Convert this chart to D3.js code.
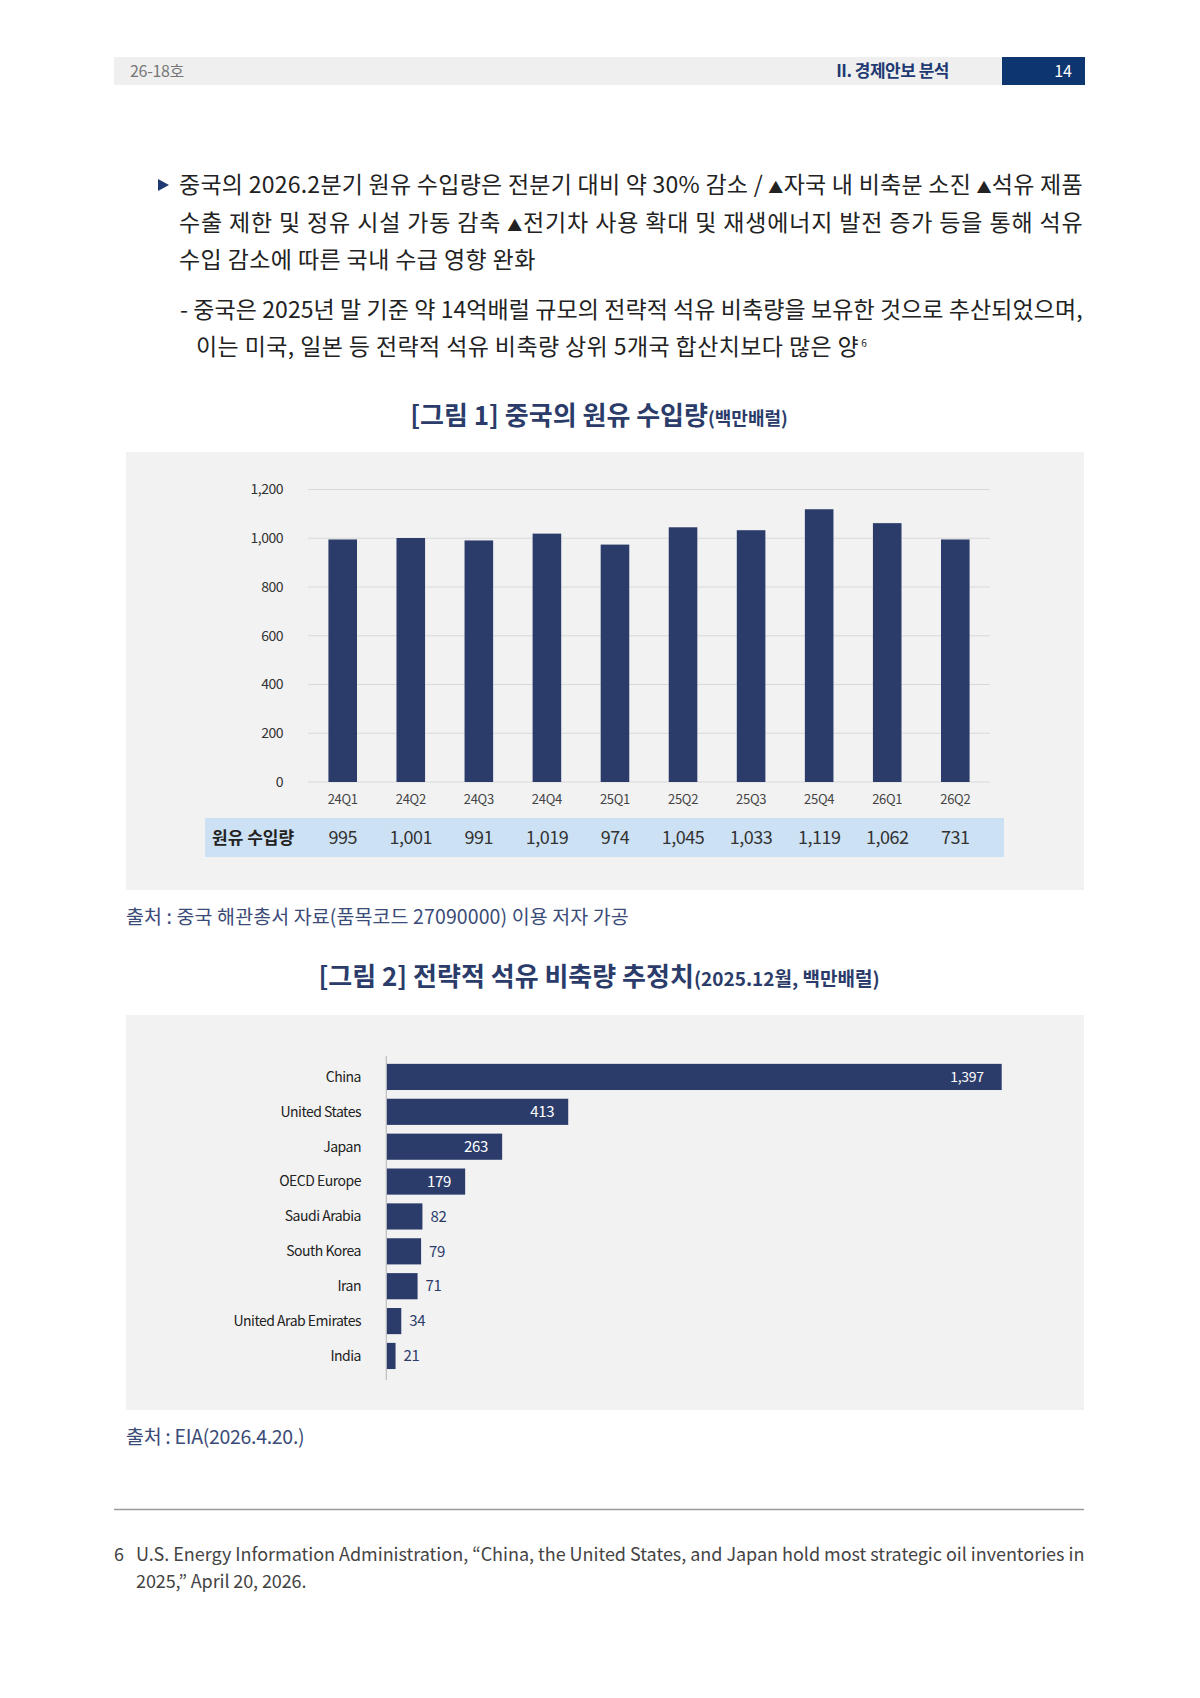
<!DOCTYPE html>
<html>
<head>
<meta charset="utf-8">
<script src="https://cdn.jsdelivr.net/npm/d3@7"></script>
<style>
  html, body { margin: 0; padding: 0; background: #fff; }
  svg { display: block; }
  text { font-family: "Noto Sans CJK KR", "Noto Sans", sans-serif; }
</style>
</head>
<body>
<div id="page"></div>
<script>
// figure 1: quarterly crude imports (million bbl)
const quarters = ['24Q1', '24Q2', '24Q3', '24Q4', '25Q1', '25Q2', '25Q3', '25Q4', '26Q1', '26Q2']
const importValues = [995, 1001, 991, 1019, 974, 1045, 1033, 1119, 1062, 731]
// bar heights as drawn in the picture (the 26Q2 bar stands at ~995, not 731)
const importBars = [995, 1001, 991, 1019, 974, 1045, 1033, 1119, 1062, 995]
const importTicks = [0, 200, 400, 600, 800, 1000, 1200]

// figure 2: strategic oil stocks, Dec 2025 (million bbl)
const countries = ['China', 'United States', 'Japan', 'OECD Europe', 'Saudi Arabia', 'South Korea', 'Iran', 'United Arab Emirates', 'India']
const stockValues = [1397, 413, 263, 179, 82, 79, 71, 34, 21]

const bodyLines = [
  '중국의 2026.2분기 원유 수입량은 전분기 대비 약 30% 감소 / ▲자국 내 비축분 소진 ▲석유 제품',
  '수출 제한 및 정유 시설 가동 감축 ▲전기차 사용 확대 및 재생에너지 발전 증가 등을 통해 석유',
  '수입 감소에 따른 국내 수급 영향 완화',
  '- 중국은 2025년 말 기준 약 14억배럴 규모의 전략적 석유 비축량을 보유한 것으로 추산되었으며,',
  '이는 미국, 일본 등 전략적 석유 비축량 상위 5개국 합산치보다 많은 양'
]

const navy = '#2b3c6b'
const fmt = d3.format(',')

const svg = d3.select('#page').append('svg')
  .attr('width', 1200)
  .attr('height', 1698)

svg.append('rect').attr('width', 1200).attr('height', 1698).attr('fill', '#fff')

// header strip
svg.append('rect').attr('x', 114).attr('y', 57).attr('width', 888).attr('height', 28).attr('fill', '#efefef')
svg.append('rect').attr('x', 1002).attr('y', 57).attr('width', 83).attr('height', 28).attr('fill', '#0d3570')
svg.append('text').attr('x', 130).attr('y', 71).attr('dy', '0.35em')
  .attr('font-size', 16).attr('fill', '#777').attr('letter-spacing', -0.3).text('26-18호')
svg.append('text').attr('x', 949).attr('y', 71).attr('dy', '0.35em').attr('text-anchor', 'end')
  .attr('font-size', 17).attr('font-weight', 700).attr('fill', '#1f3a72').attr('letter-spacing', -0.5).text('II. 경제안보 분석')
svg.append('text').attr('x', 1072).attr('y', 71).attr('dy', '0.35em').attr('text-anchor', 'end')
  .attr('font-size', 16).attr('fill', '#fff').text('14')

// body text
const body = svg.append('g').attr('font-size', 23).attr('fill', '#222')
svg.append('path').attr('d', 'M158,179 L169,185 L158,191 Z').attr('fill', '#1f3a72')
const lineSpec = [
  { x: 179, y: 185, w: 904 },
  { x: 179, y: 223, w: 904 },
  { x: 179, y: 260 },
  { x: 180, y: 310, w: 903 },
  { x: 196, y: 347 }
]
lineSpec.forEach((s, i) => {
  const t = body.append('text').attr('x', s.x).attr('y', s.y).attr('dy', '0.35em')
    .attr('letter-spacing', 0.4)
  bodyLines[i].split('▲').forEach((part, j) => {
    if (j > 0) t.append('tspan').attr('font-size', 15).text('▲')
    t.append('tspan').text(part)
  })
  if (s.w) t.attr('textLength', s.w).attr('lengthAdjust', 'spacing')
  if (i === 4) t.append('tspan').attr('font-size', 10).attr('dy', '-0.8em').attr('dx', 2).text('6')
})

// ---- figure 1 ----
const t1 = svg.append('text').attr('x', 599).attr('y', 419).attr('dy', '0.35em')
  .attr('text-anchor', 'middle').attr('fill', navy).attr('font-weight', 700)
t1.append('tspan').attr('font-size', 26).text('[그림 1] 중국의 원유 수입량')
t1.append('tspan').attr('font-size', 18).text('(백만배럴)')

svg.append('rect').attr('x', 126).attr('y', 452).attr('width', 958).attr('height', 438).attr('fill', '#f2f2f2')

const x1 = d3.scaleBand().domain(quarters).range([308, 990]).paddingInner(0.58).paddingOuter(0.3)
const y1 = d3.scaleLinear().domain([0, 1200]).range([782, 489.5])

const g1 = svg.append('g')
g1.selectAll('.grid').data(importTicks).enter().append('line')
  .attr('x1', 308).attr('x2', 990)
  .attr('y1', d => y1(d)).attr('y2', d => y1(d))
  .attr('stroke', '#d9d9d9').attr('stroke-width', 1)

g1.selectAll('.tick').data(importTicks).enter().append('text')
  .attr('x', 283).attr('y', d => y1(d)).attr('dy', '0.35em')
  .attr('text-anchor', 'end').attr('font-size', 14).attr('fill', '#333')
  .attr('font-family', '"Noto Sans", sans-serif').attr('letter-spacing', -0.5)
  .text(d => fmt(d))

g1.selectAll('.bar').data(importBars).enter().append('rect')
  .attr('x', (d, i) => x1(quarters[i]))
  .attr('y', d => y1(d))
  .attr('width', x1.bandwidth())
  .attr('height', d => y1(0) - y1(d))
  .attr('fill', navy)

g1.selectAll('.cat').data(quarters).enter().append('text')
  .attr('x', d => x1(d) + x1.bandwidth() / 2).attr('y', 799).attr('dy', '0.35em')
  .attr('text-anchor', 'middle').attr('font-size', 13).attr('fill', '#444')
  .attr('font-family', '"Noto Sans", sans-serif').attr('letter-spacing', -0.3)
  .text(d => d)

// data table row
g1.append('rect').attr('x', 205).attr('y', 818).attr('width', 799).attr('height', 39).attr('fill', '#cde1f4')
g1.append('text').attr('x', 212).attr('y', 838).attr('dy', '0.35em')
  .attr('font-size', 17).attr('font-weight', 700).attr('fill', '#222').text('원유 수입량')
g1.selectAll('.val').data(importValues).enter().append('text')
  .attr('x', (d, i) => x1(quarters[i]) + x1.bandwidth() / 2).attr('y', 838).attr('dy', '0.35em')
  .attr('text-anchor', 'middle').attr('font-size', 18).attr('fill', '#333')
  .attr('font-family', '"Noto Sans", sans-serif').attr('letter-spacing', -0.5)
  .text(d => fmt(d))

svg.append('text').attr('x', 126).attr('y', 917).attr('dy', '0.35em')
  .attr('font-size', 19.5).attr('fill', '#3b4b78').attr('letter-spacing', 0.1)
  .text('출처 : 중국 해관총서 자료(품목코드 27090000) 이용 저자 가공')

// ---- figure 2 ----
const t2 = svg.append('text').attr('x', 599).attr('y', 980).attr('dy', '0.35em')
  .attr('text-anchor', 'middle').attr('fill', navy).attr('font-weight', 700)
t2.append('tspan').attr('font-size', 26).text('[그림 2] 전략적 석유 비축량 추정치')
t2.append('tspan').attr('font-size', 19).text('(2025.12월, 백만배럴)')

svg.append('rect').attr('x', 126).attr('y', 1015).attr('width', 958).attr('height', 395).attr('fill', '#f2f2f2')

const y2 = d3.scaleBand().domain(countries).range([1059.5, 1373.4]).paddingInner(0.25).paddingOuter(0.125)
const x2 = d3.scaleLinear().domain([0, d3.max(stockValues)]).range([386.3, 1001.7])
const g2 = svg.append('g')

g2.selectAll('.hbar').data(stockValues).enter().append('rect')
  .attr('x', x2(0))
  .attr('y', (d, i) => y2(countries[i]))
  .attr('width', d => x2(d) - x2(0))
  .attr('height', y2.bandwidth())
  .attr('fill', navy)

g2.append('line').attr('x1', 386.3).attr('x2', 386.3).attr('y1', 1056).attr('y2', 1380)
  .attr('stroke', '#bdbdbd').attr('stroke-width', 1.2)

g2.selectAll('.country').data(countries).enter().append('text')
  .attr('x', 361).attr('y', d => y2(d) + y2.bandwidth() / 2).attr('dy', '0.35em')
  .attr('text-anchor', 'end').attr('font-size', 14).attr('fill', '#222')
  .attr('font-family', '"Noto Sans", sans-serif').attr('letter-spacing', -0.5)
  .text(d => d)

const inside = d => d >= 150
g2.selectAll('.lbl').data(stockValues).enter().append('text')
  .attr('x', d => inside(d) ? x2(d) - (d > 1000 ? 18 : 14) : x2(d) + 8)
  .attr('y', (d, i) => y2(countries[i]) + y2.bandwidth() / 2).attr('dy', '0.35em')
  .attr('text-anchor', d => inside(d) ? 'end' : 'start')
  .attr('font-size', d => d > 1000 ? 14 : 15)
  .attr('fill', d => inside(d) ? '#fff' : navy)
  .attr('font-family', '"Noto Sans", sans-serif').attr('letter-spacing', -0.3)
  .text(d => fmt(d))

svg.append('text').attr('x', 126).attr('y', 1437).attr('dy', '0.35em')
  .attr('font-size', 19.5).attr('fill', '#3b4b78').attr('letter-spacing', -0.3)
  .text('출처 : EIA(2026.4.20.)')

// footnote
svg.append('line').attr('x1', 114).attr('x2', 1084).attr('y1', 1509.5).attr('y2', 1509.5)
  .attr('stroke', '#9a9a9a').attr('stroke-width', 1.5)
const foot = svg.append('g').attr('font-size', 18).attr('fill', '#444')
foot.append('text').attr('x', 114).attr('y', 1555).attr('dy', '0.35em').text('6')
foot.append('text').attr('x', 136).attr('y', 1555).attr('dy', '0.35em')
  .attr('textLength', 948).attr('lengthAdjust', 'spacing').attr('letter-spacing', -0.4)
  .text('U.S. Energy Information Administration, “China, the United States, and Japan hold most strategic oil inventories in')
foot.append('text').attr('x', 136).attr('y', 1582).attr('dy', '0.35em').attr('letter-spacing', -0.1)
  .text('2025,” April 20, 2026.')
</script>
</body>
</html>
